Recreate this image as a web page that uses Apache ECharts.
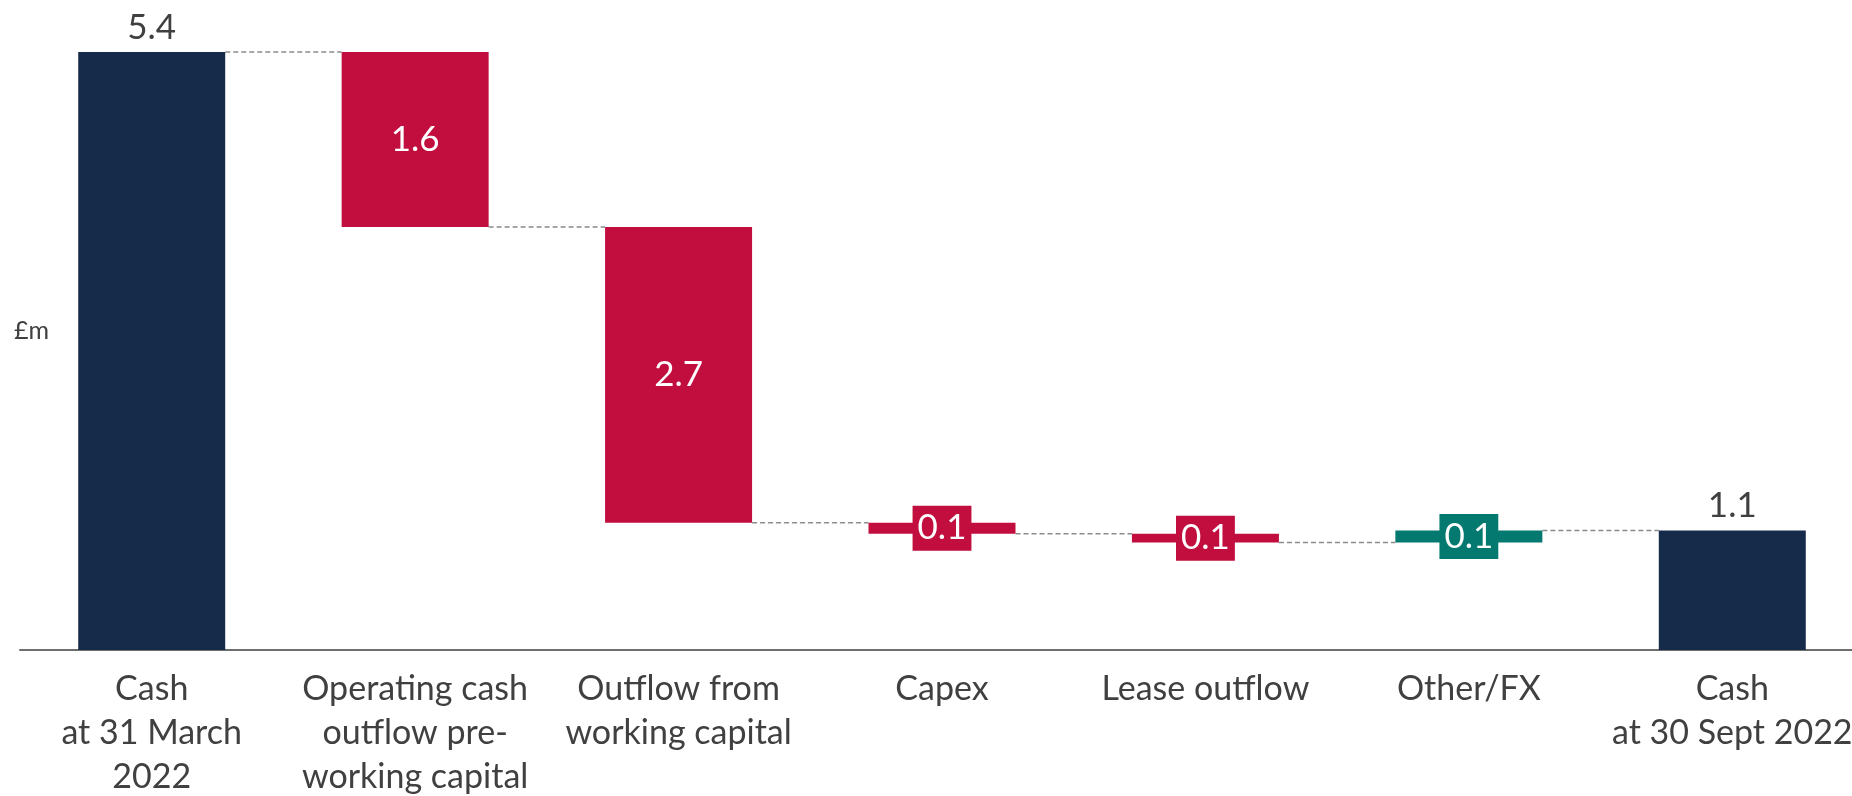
<!DOCTYPE html>
<html>
<head>
<meta charset="utf-8">
<script src="https://cdn.jsdelivr.net/npm/echarts@6/dist/echarts.min.js"></script>
<style>
html,body{margin:0;padding:0;background:#fff;}
#chart{width:1852px;height:796px;}
</style>
</head>
<body>
<div id="chart"></div>
<script>
const categories = [
  'Cash\nat 31 March\n2022',
  'Operating cash\noutflow pre-\nworking capital',
  'Outflow from\nworking capital',
  'Capex',
  'Lease outflow',
  'Other/FX',
  'Cash\nat 30 Sept 2022'
];
const openingCash = 5.4;
const movements = [-1.58, -2.67, -0.10, -0.08, 0.11];
const unitLabel = '£m';

const NAVY = '#162B4A', RED = '#C20E3E', TEAL = '#03796F';
const FONT = 'Lato';

// running totals
const levels = [openingCash];
movements.forEach(d => levels.push(levels[levels.length - 1] + d));
const closingCash = levels[levels.length - 1];

const baseData = [0];
const valData = [{ value: openingCash, kind: 'total' }];
movements.forEach((d, i) => {
  const before = levels[i], after = levels[i + 1];
  baseData.push(Math.min(before, after));
  valData.push({ value: Math.abs(d), kind: d < 0 ? 'down' : 'up' });
});
baseData.push(0);
valData.push({ value: closingCash, kind: 'total' });

const visible = valData.map((d, i) => {
  const color = d.kind === 'total' ? NAVY : (d.kind === 'down' ? RED : TEAL);
  const item = { value: d.value, itemStyle: { color } };
  if (d.kind === 'total') {
    item.label = { show: true, position: 'top', distance: 7, color: '#404040' };
  } else if (d.value > 0.5) {
    item.label = { show: true, position: 'inside', color: '#fff' };
  } else {
    item.label = { show: true, position: 'inside', color: '#fff', backgroundColor: color, padding: [5, 5, 5, 5], lineHeight: 35 };
  }
  return item;
});

const connectorData = levels.map((v, i) => [i, v]);
const BAR_FRAC = 0.558;

const chart = echarts.init(document.getElementById('chart'));
chart.setOption({
  animation: false,
  textStyle: { fontFamily: FONT },
  grid: { left: 20, width: 1844, top: 52, bottom: 146, containLabel: false, outerBoundsMode: 'none' },
  xAxis: {
    type: 'category',
    data: categories,
    axisLine: { lineStyle: { color: '#6e6e6e', width: 2 } },
    axisTick: { show: false },
    axisLabel: { interval: 0, fontSize: 34, lineHeight: 44, color: '#404040', margin: 17, fontFamily: FONT }
  },
  yAxis: { type: 'value', min: 0, max: 5.4, show: false },
  graphic: [{
    type: 'text', left: 14, top: 318,
    style: { text: unitLabel, fontSize: 25, fill: '#404040', fontFamily: FONT }
  }],
  series: [
    {
      type: 'bar', stack: 'w', data: baseData, barWidth: (BAR_FRAC * 100) + '%',
      itemStyle: { color: 'transparent' }, silent: true
    },
    {
      type: 'bar', stack: 'w', data: visible, barWidth: (BAR_FRAC * 100) + '%',
      label: { fontSize: 35, fontFamily: FONT, formatter: p => p.value.toFixed(1) },
      z: 3
    },
    {
      type: 'custom',
      data: connectorData,
      z: 1,
      renderItem: (params, api) => {
        const i = api.value(0);
        if (i >= categories.length - 1) return null;
        const p = api.coord([i, api.value(1)]);
        const w = api.size([1, 0])[0];
        const bw = w * BAR_FRAC;
        return {
          type: 'line',
          shape: { x1: p[0] + bw / 2, y1: p[1], x2: p[0] + w - bw / 2, y2: p[1] },
          style: { stroke: '#8c8c8c', lineWidth: 1.5, lineDash: [5, 3] }
        };
      }
    }
  ]
});
</script>
</body>
</html>
